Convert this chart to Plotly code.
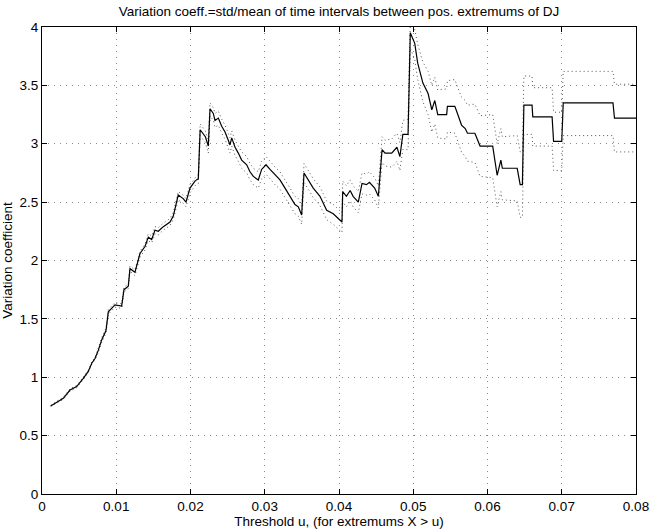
import plotly.graph_objects as go

# Threshold u values
u = [0.00117, 0.00287, 0.00377, 0.00467, 0.00556, 0.00623, 0.0067, 0.00714, 0.00758, 0.00804,
     0.00862, 0.00893, 0.00983, 0.01073, 0.01104, 0.01162, 0.01185, 0.01252, 0.0132, 0.01387,
     0.01432, 0.01477, 0.01522, 0.01566, 0.01634, 0.01724, 0.01768, 0.01835, 0.01902, 0.01939,
     0.01993, 0.0206, 0.02105, 0.0213, 0.0220, 0.0224, 0.02263, 0.02307, 0.0233, 0.02375,
     0.0242, 0.02465, 0.02509, 0.02532, 0.02555, 0.026, 0.02644, 0.02689, 0.02757, 0.02801,
     0.02846, 0.02913, 0.02958, 0.03017, 0.03071, 0.03138, 0.03205, 0.03273, 0.0334, 0.03407,
     0.03452, 0.03497, 0.03529, 0.03586, 0.03653, 0.03744, 0.03834, 0.03923, 0.04013, 0.0404,
     0.0405, 0.0410, 0.0415, 0.0419, 0.0426, 0.0431, 0.0437, 0.0441, 0.0448, 0.0453,
     0.0458, 0.0462, 0.0471, 0.0478, 0.0482, 0.0486, 0.0493, 0.0496, 0.0502, 0.0506,
     0.0513, 0.0520, 0.0525, 0.0529, 0.0533, 0.0545, 0.0546, 0.0556, 0.0560, 0.0565,
     0.0570, 0.0573, 0.0583, 0.0590, 0.0607, 0.0609, 0.0611, 0.0613, 0.0618, 0.0620,
     0.0640, 0.0644, 0.0647, 0.0649, 0.0660, 0.0661, 0.0687, 0.0689, 0.0700, 0.0702,
     0.0769, 0.0771, 0.0800]

# Variation coefficient (solid)
vc = [0.754, 0.82, 0.89, 0.92, 0.99, 1.05, 1.12, 1.16, 1.23, 1.32,
      1.40, 1.56, 1.62, 1.61, 1.75, 1.78, 1.93, 1.90, 2.06, 2.12,
      2.20, 2.18, 2.26, 2.25, 2.29, 2.33, 2.38, 2.56, 2.53, 2.50,
      2.62, 2.68, 2.70, 3.12, 3.06, 2.98, 3.30, 3.26, 3.20, 3.22,
      3.15, 3.10, 3.03, 2.99, 3.05, 2.97, 2.92, 2.86, 2.82, 2.76,
      2.72, 2.69, 2.78, 2.82, 2.78, 2.73, 2.69, 2.62, 2.55, 2.48,
      2.46, 2.39, 2.75, 2.69, 2.62, 2.55, 2.43, 2.40, 2.35, 2.33,
      2.59, 2.55, 2.60, 2.55, 2.50, 2.66, 2.65, 2.67, 2.62, 2.55,
      2.95, 2.92, 2.92, 2.97, 2.89, 3.08, 3.08, 3.95, 3.86, 3.69,
      3.52, 3.43, 3.29, 3.37, 3.25, 3.25, 3.32, 3.32, 3.25, 3.16,
      3.13, 3.09, 3.09, 2.98, 2.98, 2.89, 2.80, 2.73, 2.86, 2.79,
      2.79, 2.65, 2.65, 3.33, 3.33, 3.23, 3.23, 3.02, 3.02, 3.35,
      3.35, 3.22, 3.22]

# Upper bound (dotted)
vc_upper = [0.76, 0.83, 0.90, 0.93, 1.00, 1.06, 1.13, 1.17, 1.25, 1.34,
            1.42, 1.58, 1.64, 1.63, 1.77, 1.80, 1.95, 1.92, 2.08, 2.14,
            2.23, 2.21, 2.29, 2.28, 2.32, 2.36, 2.41, 2.59, 2.56, 2.53,
            2.65, 2.71, 2.74, 3.17, 3.11, 3.03, 3.35, 3.31, 3.26, 3.28,
            3.21, 3.16, 3.09, 3.05, 3.11, 3.03, 2.98, 2.93, 2.89, 2.83,
            2.79, 2.76, 2.85, 2.89, 2.85, 2.80, 2.76, 2.69, 2.62, 2.55,
            2.53, 2.46, 2.83, 2.77, 2.70, 2.63, 2.51, 2.48, 2.43, 2.41,
            2.68, 2.64, 2.69, 2.64, 2.59, 2.75, 2.74, 2.76, 2.71, 2.64,
            3.06, 3.03, 3.04, 3.09, 3.01, 3.20, 3.21, 4.05, 3.98, 3.85,
            3.70, 3.62, 3.50, 3.57, 3.46, 3.47, 3.54, 3.55, 3.48, 3.40,
            3.37, 3.33, 3.34, 3.24, 3.25, 3.15, 3.07, 3.00, 3.13, 3.06,
            3.07, 2.93, 2.93, 3.58, 3.58, 3.48, 3.48, 3.27, 3.27, 3.62,
            3.62, 3.51, 3.51]

# Lower bound (dotted)
vc_lower = [0.75, 0.81, 0.88, 0.91, 0.98, 1.04, 1.11, 1.15, 1.21, 1.30,
            1.38, 1.54, 1.60, 1.59, 1.73, 1.76, 1.91, 1.87, 2.03, 2.09,
            2.17, 2.15, 2.23, 2.22, 2.26, 2.30, 2.35, 2.52, 2.49, 2.46,
            2.58, 2.64, 2.66, 3.07, 3.01, 2.92, 3.24, 3.20, 3.14, 3.16,
            3.09, 3.04, 2.96, 2.92, 2.98, 2.90, 2.85, 2.79, 2.75, 2.69,
            2.65, 2.62, 2.70, 2.74, 2.70, 2.65, 2.61, 2.54, 2.47, 2.40,
            2.38, 2.31, 2.67, 2.61, 2.54, 2.47, 2.35, 2.31, 2.26, 2.24,
            2.50, 2.46, 2.51, 2.46, 2.41, 2.57, 2.56, 2.57, 2.52, 2.45,
            2.84, 2.81, 2.80, 2.85, 2.77, 2.95, 2.95, 3.82, 3.72, 3.55,
            3.36, 3.25, 3.10, 3.17, 3.05, 3.04, 3.10, 3.09, 3.02, 2.93,
            2.89, 2.85, 2.84, 2.72, 2.71, 2.62, 2.53, 2.46, 2.59, 2.52,
            2.51, 2.37, 2.37, 3.08, 3.08, 2.98, 2.98, 2.77, 2.77, 3.07,
            3.07, 2.93, 2.93]

x_tickvals = [0, 0.01, 0.02, 0.03, 0.04, 0.05, 0.06, 0.07, 0.08]
x_ticktext = ["0", "0.01", "0.02", "0.03", "0.04", "0.05", "0.06", "0.07", "0.08"]
y_tickvals = [0, 0.5, 1, 1.5, 2, 2.5, 3, 3.5, 4]
y_ticktext = ["0", "0.5", "1", "1.5", "2", "2.5", "3", "3.5", "4"]

FONT = "Liberation Sans, Arial, Helvetica, sans-serif"
FS = 13.5

fig = go.Figure()
fig.add_trace(go.Scatter(x=u, y=vc_upper, mode="lines",
                         line=dict(color="#555555", width=1, dash="1px,3px"),
                         showlegend=False, hoverinfo="skip"))
fig.add_trace(go.Scatter(x=u, y=vc_lower, mode="lines",
                         line=dict(color="#555555", width=1, dash="1px,3px"),
                         showlegend=False, hoverinfo="skip"))
fig.add_trace(go.Scatter(x=u, y=vc, mode="lines",
                         line=dict(color="black", width=1.2),
                         showlegend=False))

axis_common = dict(
    showline=True, linecolor="black", linewidth=1, mirror="allticks",
    ticks="inside", ticklen=5, tickcolor="black", tickwidth=1,
    showgrid=True, gridcolor="#8a8a8a", gridwidth=1, griddash="1px,5px",
    zeroline=False, automargin=False,
    tickfont=dict(family=FONT, size=FS, color="black"),
)

fig.update_layout(
    width=654, height=530,
    paper_bgcolor="white", plot_bgcolor="white",
    margin=dict(l=42, r=18, t=27, b=36),
    font=dict(family=FONT, size=FS, color="black"),
    title=dict(text="Variation coeff.=std/mean of time intervals between pos. extremums of DJ",
               x=0.5, xref="paper", xanchor="center",
               y=1 - 11 / 530, yref="container", yanchor="middle",
               pad=dict(t=0, b=0),
               font=dict(family=FONT, size=FS, color="black")),
    xaxis=dict(range=[0, 0.08], tickvals=x_tickvals, ticktext=x_ticktext,
               title=dict(text="Threshold u, (for extremums X > u)", standoff=1,
                          font=dict(family=FONT, size=FS)),
               **axis_common),
    yaxis=dict(range=[0, 4], tickvals=y_tickvals, ticktext=y_ticktext,
               title=dict(text="Variation coefficient", standoff=4,
                          font=dict(family=FONT, size=FS)),
               **axis_common),
)

fig.write_html("out.html",
               config={"displayModeBar": False},
               post_script="document.body.style.margin='0';document.body.style.overflow='hidden';")
